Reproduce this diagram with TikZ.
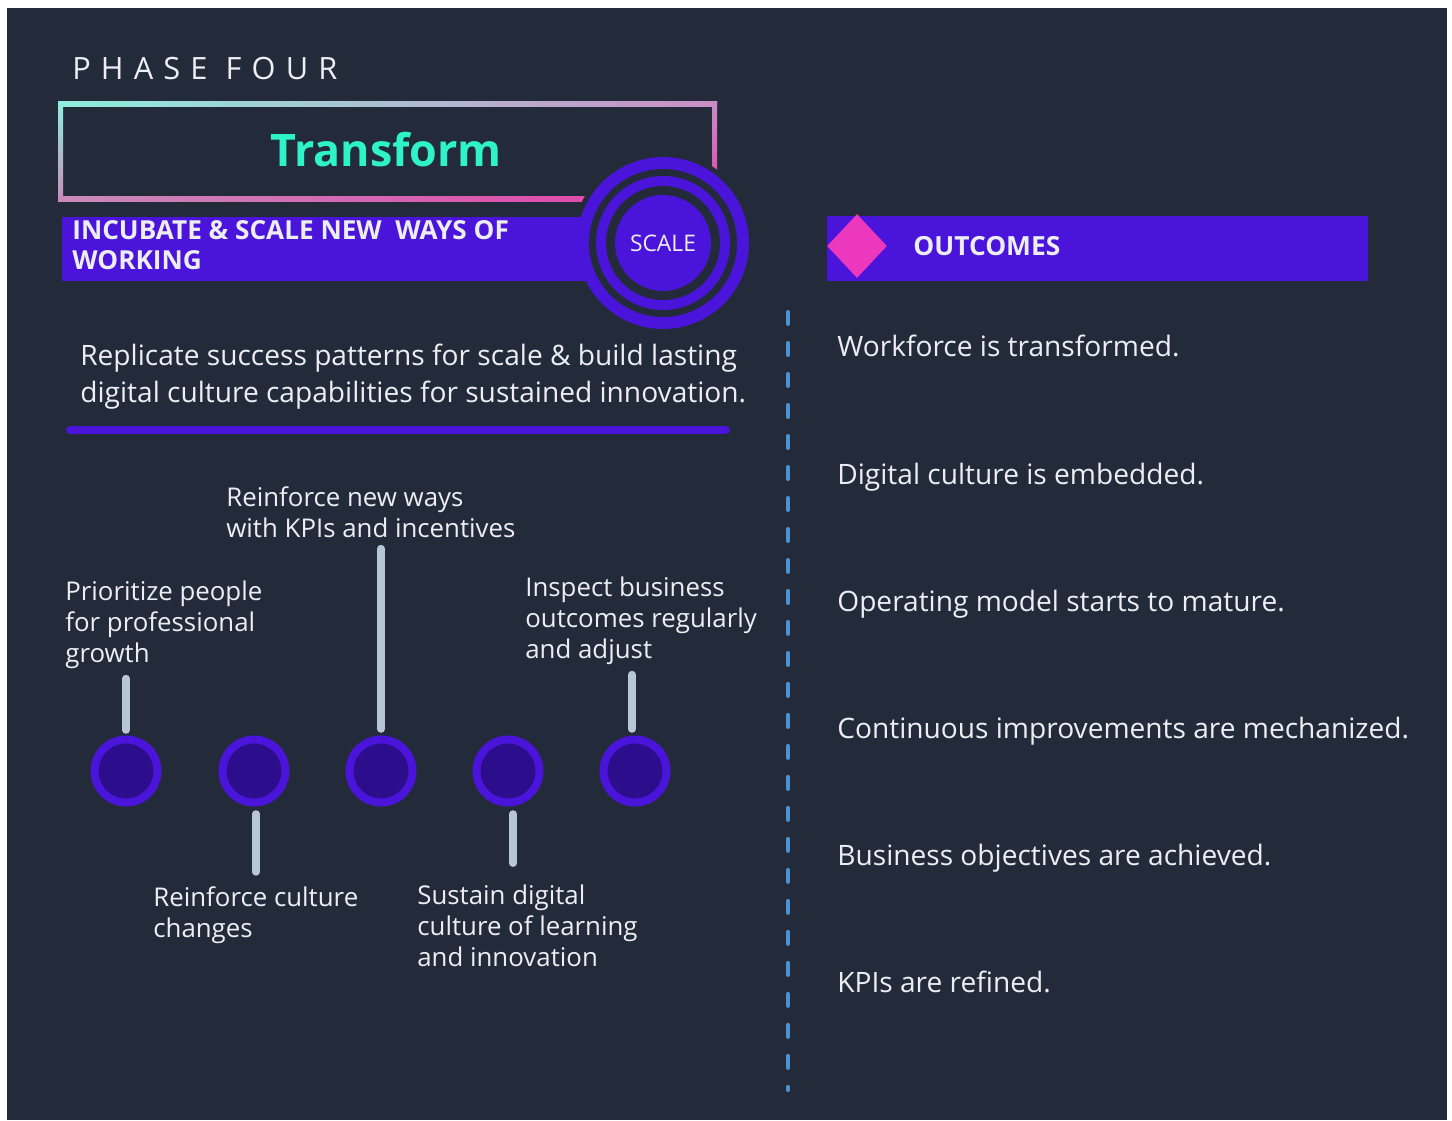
\documentclass[tikz,border=0pt]{standalone}
\usepackage{fontspec}
\setmainfont{Open Sans}
\usetikzlibrary{positioning,shapes.geometric}

\definecolor{bg}{HTML}{232B3A}
\definecolor{ink}{HTML}{ECEEF3}
\definecolor{violet}{HTML}{4A14DA}
\definecolor{deepviolet}{HTML}{2C0E8C}
\definecolor{rose}{HTML}{EC38BC}
\definecolor{mint}{HTML}{2EF2C8}
\definecolor{steel}{HTML}{B7C6D6}
\definecolor{sky}{HTML}{4B92D4}
\definecolor{frametl}{HTML}{8EEEDC}
\definecolor{frametr}{HTML}{C98EC6}
\definecolor{framebl}{HTML}{C78BBA}
\definecolor{framebr}{HTML}{E53DA9}

\newcommand{\phasefont}{\addfontfeature{LetterSpace=33}\fontsize{17.5}{20}\selectfont}
\newcommand{\tagfont}{\fontsize{14.7}{17.6}\selectfont}

\tikzset{
	txt/.style={text=ink, inner sep=0pt, anchor=base west, align=left},
	tag/.style={txt, font=\tagfont},
	outcome/.style={txt, font=\fontsize{16}{19}\selectfont},
	disc/.style={circle, inner sep=0pt, minimum size=#1},
	dot/.style={circle, draw=violet, fill=deepviolet, line width=0.16cm, inner sep=0pt, minimum size=1.26cm},
	stub/.style={steel, line width=0.15cm, line cap=round},
	divider/.style={sky, line width=0.08cm, line cap=round, dash pattern=on 0.24cm off 0.38cm}
}

\begin{document}
\begin{tikzpicture}[x=0.02cm, y=-0.02cm]
	\fill[white] (0,0) rectangle (1452,1121);
	\fill[bg] (7,8) rectangle (1447,1120);

	% title block
	\node[txt, font=\phasefont] (phase) at (72,80) {PHASE FOUR};
	\shade[left color=frametl, right color=frametr] (58,102) rectangle (717,107);
	\shade[top color=frametl, bottom color=framebl] (58,102) rectangle (63,202);
	\shade[left color=framebl, right color=framebr] (58,197) rectangle (717,202);
	\shade[top color=frametr, bottom color=framebr] (712,102) rectangle (717,202);
	\node[anchor=base, inner sep=0pt, text=mint, font=\bfseries\fontsize{25.5}{30}\selectfont] (title) at (386,167) {Transform};

	\node[disc=3.64cm, fill=bg] (halo) at (663,243) {};
	\fill[violet] (62,217) rectangle (640,281);
	\node[txt, font=\bfseries\fontsize{14.9}{17.6}\selectfont] (motto) at (72,270) {INCUBATE \& SCALE NEW\ \ WAYS OF\\WORKING};
	\node[disc=3.44cm, fill=violet] (outer) at (663,243) {};
	\node[disc=2.96cm, fill=bg] at (663,243) {};
	\node[disc=2.68cm, fill=violet] (inner) at (663,243) {};
	\node[disc=2.28cm, fill=bg] at (663,243) {};
	\node[disc=1.92cm, fill=violet, text=ink, font=\fontsize{13}{15}\selectfont] (scale) at (663,243) {SCALE};

	\node[txt, font=\fontsize{16}{20.5}\selectfont] (lead) at (80,402) {Replicate success patterns for scale \& build lasting\\digital culture capabilities for sustained innovation.};
	\draw[violet, line width=0.16cm, line cap=round] (70,430) -- (726,430);

	% timeline
	\foreach \x [count=\i] in {126,254,381,508,635}
		\node[dot] (c\i) at (\x,771) {};

	\node[tag] (p1) at (65,662) {Prioritize people\\for professional\\growth};
	\node[tag] (p2) at (153,937) {Reinforce culture\\changes};
	\node[tag] (p3) at (226,537) {Reinforce new ways\\with KPIs and incentives};
	\node[tag] (p4) at (417,966) {Sustain digital\\culture of learning\\and innovation};
	\node[tag] (p5) at (525,658) {Inspect business\\outcomes regularly\\and adjust};

	\draw[stub, shorten <=0.11cm, shorten >=0.2cm] (c1.north) -- (c1.north |- p1.south);
	\draw[stub, shorten <=0.15cm, shorten >=0.28cm] ([xshift=0.04cm]c2.south) -- ([xshift=0.04cm]c2.south |- p2.north);
	\draw[stub, shorten <=0.13cm, shorten >=0.22cm] (c3.north) -- (c3.north |- p3.south);
	\draw[stub, shorten <=0.15cm, shorten >=0.42cm] ([xshift=0.1cm]c4.south) -- ([xshift=0.1cm]c4.south |- p4.north);
	\draw[stub, shorten <=0.13cm, shorten >=0.2cm] ([xshift=-0.06cm]c5.north) -- ([xshift=-0.06cm]c5.north |- p5.south);

	\draw[divider] (788,312) -- (788,1090);

	% outcomes
	\fill[violet] (827,216) rectangle (1368,281);
	\node[diamond, fill=rose, inner sep=0pt, minimum width=1.2cm, minimum height=1.28cm] (gem) at (857,246) {};
	\node[txt, font=\bfseries\fontsize{15}{18}\selectfont] (outhead) at (913,256) {OUTCOMES};
	\foreach \t [count=\i from 0] in {Workforce is transformed., Digital culture is embedded., Operating model starts to mature., Continuous improvements are mechanized., Business objectives are achieved., KPIs are refined.}
		\node[outcome] (o\i) at (837,357+127*\i) {\t};
\end{tikzpicture}
\end{document}
